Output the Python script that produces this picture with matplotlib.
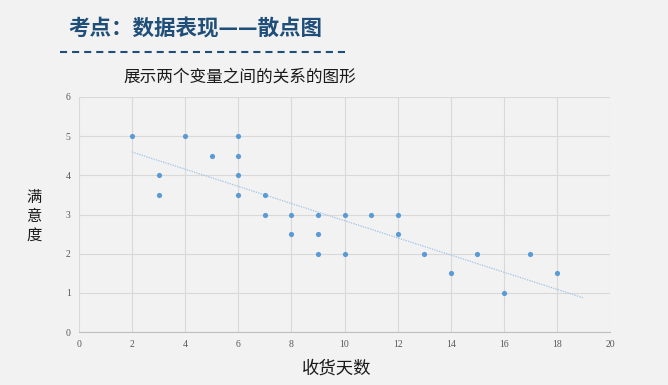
import matplotlib
matplotlib.use('Agg')
import matplotlib.pyplot as plt
import numpy as np

plt.rcParams['font.family'] = ['Noto Sans CJK SC', 'DejaVu Sans']

# data
days = [2, 3, 3, 4, 5, 6, 6, 6, 6, 7, 7, 8, 8, 9, 9, 9, 10, 10, 11, 12, 12,
        13, 14, 15, 16, 17, 18]
satisfaction = [5, 4, 3.5, 5, 4.5, 5, 4.5, 4, 3.5, 3.5, 3, 3, 2.5, 3, 2.5, 2,
                3, 2, 3, 3, 2.5, 2, 1.5, 2, 1, 2, 1.5]
x_ticks = [0, 2, 4, 6, 8, 10, 12, 14, 16, 18, 20]
y_ticks = [0, 1, 2, 3, 4, 5, 6]

bg = '#f2f2f2'
fig = plt.figure(figsize=(6.68, 3.85), dpi=100, facecolor=bg)
W, H = 668, 385
ax = fig.add_axes([79 / W, 1 - 332 / H, (610 - 79) / W, (332 - 97) / H])
ax.set_facecolor(bg)

ax.scatter(days, satisfaction, s=14, color='#5b9bd5', zorder=3, linewidths=0)

# linear trendline
k, b = np.polyfit(days, satisfaction, 1)
tx = np.array([2, 19])
ax.plot(tx, k * tx + b, linestyle=(0, (1, 1)), color='#9dc3e6', linewidth=0.9, zorder=2)

ax.set_xlim(0, 20)
ax.set_ylim(0, 6)
ax.set_xticks(x_ticks)
ax.set_yticks(y_ticks)
ax.grid(True, color='#d9d9d9', linewidth=0.8)
ax.set_axisbelow(True)
for side in ['top', 'right', 'left']:
    ax.spines[side].set_visible(False)
ax.spines['bottom'].set_color('#bfbfbf')
ax.tick_params(length=0, labelsize=7, labelcolor='#595959', pad=6)
for lbl in ax.get_xticklabels() + ax.get_yticklabels():
    lbl.set_family(['Liberation Serif', 'DejaVu Serif'])

# titles and labels
fig.text(68 / W, 1 - 29 / H, '考点：数据表现——散点图', fontsize=15.5, color='#1f4e79',
         fontweight='bold', va='center', ha='left')
fig.add_artist(plt.Line2D([60 / W, 350 / W], [1 - 52 / H, 1 - 52 / H],
                          color='#1f4e79', linewidth=1.5, linestyle=(0, (3.4, 2.4))))
fig.text(123 / W, 1 - 77 / H, '展示两个变量之间的关系的图形', fontsize=12,
         color='#1a1a1a', va='center', ha='left')
fig.text(34 / W, 1 - 216 / H, '满\n意\n度', fontsize=11, color='#1a1a1a',
         va='center', ha='center', linespacing=1.15)
fig.text(337 / W, 1 - 369 / H, '收货天数', fontsize=12.5, color='#1a1a1a',
         va='center', ha='center')

fig.savefig('out.png', dpi=100, facecolor=bg)
